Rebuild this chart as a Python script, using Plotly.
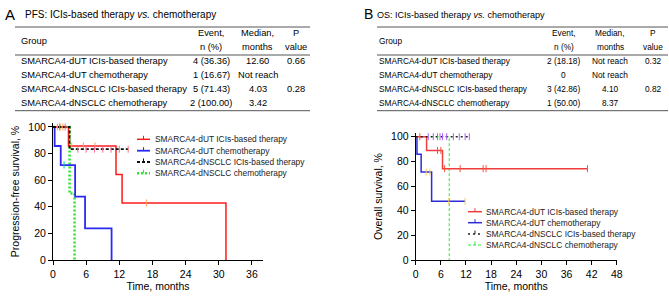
import plotly.graph_objects as go

W, H = 669, 297
FONT = "Liberation Sans, Arial, sans-serif"

# ---------------- data ----------------
panel_letters = ["A", "B"]
panel_titles = ["PFS: ICIs-based therapy <i>vs.</i> chemotherapy",
                "OS: ICIs-based therapy <i>vs.</i> chemotherapy"]

groups = ["SMARCA4-dUT ICIs-based therapy", "SMARCA4-dUT chemotherapy",
          "SMARCA4-dNSCLC ICIs-based therapy", "SMARCA4-dNSCLC chemotherapy"]
header_top = ["Event,", "Median,", "P"]
header_bot = ["n (%)", "months", "value"]

pfs_events = ["4 (36.36)", "1 (16.67)", "5 (71.43)", "2 (100.00)"]
pfs_median = ["12.60", "Not reach", "4.03", "3.42"]
pfs_p = ["0.66", "", "0.28", ""]

os_events = ["2 (18.18)", "0", "3 (42.86)", "1 (50.00)"]
os_median = ["Not reach", "Not reach", "4.10", "8.37"]
os_p = ["0.32", "", "0.82", ""]

# Kaplan-Meier step knots (time in months, survival %)
pfs_dut_ici_t = [0, 2.8, 11.4, 12.5, 31.3]
pfs_dut_ici_s = [100, 85.7, 64.3, 42.9, 0]
pfs_dut_ici_c = [0.8, 1.3, 1.8, 3.4, 5.5, 7.6, 16.9]

pfs_dut_chemo_t = [0, 0.3, 1.4, 4.0, 5.8, 10.6]
pfs_dut_chemo_s = [100, 85.7, 71.4, 47.6, 23.8, 0]
pfs_dut_chemo_c = [2.0]

pfs_nsclc_ici_t = [0, 3.0, 13.6]
pfs_nsclc_ici_s = [100, 83.3, 83.3]
pfs_nsclc_ici_c = [1.2, 2.2, 4.5, 6.0, 7.5, 9.0, 10.5, 12.0, 13.6]

pfs_nsclc_chemo_t = [0, 3.0, 3.9]
pfs_nsclc_chemo_s = [100, 50, 0]
pfs_nsclc_chemo_c = []

os_dut_ici_t = [0, 2.6, 6.4, 41.0]
os_dut_ici_s = [100, 88.9, 74.1, 74.1]
os_dut_ici_c = [1.0, 5.2, 6.0, 6.9, 10.6, 16.1, 16.8, 41.0]

os_dut_chemo_t = [0, 0.3, 1.3, 3.8, 11.8]
os_dut_chemo_s = [100, 85.7, 71.4, 47.6, 47.6]
os_dut_chemo_c = [2.5, 3.4, 7.9, 11.8]

os_nsclc_ici_t = [0, 12.8]
os_nsclc_ici_s = [100, 100]
os_nsclc_ici_c = [3.0, 4.2, 5.2, 5.8, 6.4, 7.4, 9.0, 10.4, 11.8, 12.8]

os_nsclc_chemo_t = [0, 8.0]
os_nsclc_chemo_s = [100, 0]
os_nsclc_chemo_c = []

pfs_x_ticks = [0, 6, 12, 18, 24, 30, 36]
os_x_ticks = [0, 6, 12, 18, 24, 30, 36, 42, 48]
y_ticks = [0, 20, 40, 60, 80, 100]

# ---------------- styles ----------------
left_styles = [
    dict(color="#ff1a1a", width=1.5, dash="solid"),
    dict(color="#2b2bf0", width=1.8, dash="solid"),
    dict(color="#111111", width=1.8, dash="3px,2px"),
    dict(color="#2ee82e", width=2.6, dash="2px,2px"),
]
right_styles = [
    dict(color="#f23c3c", width=1.5, dash="solid"),
    dict(color="#2b2bd8", width=1.5, dash="solid"),
    dict(color="#222222", width=1.6, dash="2px,3px"),
    dict(color="#2ee82e", width=1.0, dash="3px,2px"),
]
draw_order = [3, 1, 0, 2]  # green first, then blue, red, black on top


def px(x):
    return x / W


def py(y):
    return 1 - y / H


def step_val(ts, ss, t):
    v = ss[0]
    for tk, sk in zip(ts, ss):
        if t >= tk:
            v = sk
    return v


fig = go.Figure()

panels = [
    dict(curves=[(pfs_dut_ici_t, pfs_dut_ici_s, pfs_dut_ici_c),
                 (pfs_dut_chemo_t, pfs_dut_chemo_s, pfs_dut_chemo_c),
                 (pfs_nsclc_ici_t, pfs_nsclc_ici_s, pfs_nsclc_ici_c),
                 (pfs_nsclc_chemo_t, pfs_nsclc_chemo_s, pfs_nsclc_chemo_c)],
         styles=left_styles, xa="x", ya="y"),
    dict(curves=[(os_dut_ici_t, os_dut_ici_s, os_dut_ici_c),
                 (os_dut_chemo_t, os_dut_chemo_s, os_dut_chemo_c),
                 (os_nsclc_ici_t, os_nsclc_ici_s, os_nsclc_ici_c),
                 (os_nsclc_chemo_t, os_nsclc_chemo_s, os_nsclc_chemo_c)],
         styles=right_styles, xa="x2", ya="y2"),
]

for p in panels:
    for i in draw_order:
        name = groups[i]
        ts, ss, cs = p["curves"][i]
        st = p["styles"][i]
        fig.add_trace(go.Scatter(
            x=ts, y=ss, mode="lines", line_shape="hv", name=name,
            line=dict(color=st["color"], width=st["width"], dash=st["dash"]),
            xaxis=p["xa"], yaxis=p["ya"], showlegend=False, hoverinfo="skip"))
        if cs:
            fig.add_trace(go.Scatter(
                x=cs, y=[step_val(ts, ss, c) for c in cs], mode="markers",
                marker=dict(symbol="line-ns-open", size=5,
                            line=dict(color=st["color"], width=1)),
                xaxis=p["xa"], yaxis=p["ya"], showlegend=False, hoverinfo="skip",
                cliponaxis=False))

axis_common = dict(showline=True, linecolor="black", linewidth=1, ticks="outside",
                   ticklen=4, tickwidth=1, tickcolor="black", showgrid=False,
                   zeroline=False, tickfont=dict(size=10.5, color="black", family=FONT),
                   automargin=False)

fig.update_layout(
    width=W, height=H, margin=dict(l=0, r=0, t=0, b=0),
    paper_bgcolor="white", plot_bgcolor="white",
    font=dict(family=FONT, color="black"),
    showlegend=False,
    xaxis=dict(domain=[px(53), px(263)], range=[0, 38], tickvals=pfs_x_ticks, anchor="y",
               title=dict(text="Time, months", font=dict(size=10.5), standoff=2), **axis_common),
    yaxis=dict(domain=[py(260), py(123)], range=[0, 103], tickvals=y_ticks, anchor="x",
               title=dict(text="Progression-free survival, %", font=dict(size=10.5), standoff=6),
               **axis_common),
    xaxis2=dict(domain=[px(415.7), px(616.8)], range=[0, 48], tickvals=os_x_ticks, anchor="y2",
                title=dict(text="Time, months", font=dict(size=10.5), standoff=2), **axis_common),
    yaxis2=dict(domain=[py(260), py(133)], range=[0, 103], tickvals=y_ticks, anchor="x2",
                title=dict(text="Overall survival, %", font=dict(size=10.5), standoff=6),
                **axis_common),
)

annotations = []
shapes = []

# ---------------- panel letters, titles and tables ----------------
tables = [
    dict(letter_x=3, title_x=23, x0=15, x1=310, group_x=19, fs=9.3, title_fs=10, letter_fs=15,
         cols=[211, 257.5, 296.3], data=[pfs_events, pfs_median, pfs_p]),
    dict(letter_x=362, title_x=375, x0=377, x1=668, group_x=377, fs=8.3, title_fs=9, letter_fs=14,
         cols=[563.5, 610, 653], data=[os_events, os_median, os_p]),
]
row_y = [61, 75, 89, 103]

for letter, title, tb in zip(panel_letters, panel_titles, tables):
    TFS = tb["fs"]
    annotations.append(dict(text=letter, x=px(tb["letter_x"]), y=py(14), xref="paper", yref="paper",
                            xanchor="left", yanchor="middle", showarrow=False,
                            font=dict(size=tb["letter_fs"], color="black")))
    annotations.append(dict(text=title, x=px(tb["title_x"]), y=py(14.5), xref="paper", yref="paper",
                            xanchor="left", yanchor="middle", showarrow=False,
                            font=dict(size=tb["title_fs"], color="black")))
    for yline in (27, 55, 110.7):
        shapes.append(dict(type="line", xref="paper", yref="paper",
                           x0=px(tb["x0"]), x1=px(tb["x1"]), y0=py(yline), y1=py(yline),
                           line=dict(color="#555555", width=1)))
    annotations.append(dict(text="Group", x=px(tb["group_x"]), y=py(41), xref="paper", yref="paper",
                            xanchor="left", yanchor="middle", showarrow=False,
                            font=dict(size=TFS)))
    for cx, ht, hb in zip(tb["cols"], header_top, header_bot):
        annotations.append(dict(text=ht, x=px(cx), y=py(33.5), xref="paper", yref="paper",
                                xanchor="center", yanchor="middle", showarrow=False,
                                font=dict(size=TFS)))
        annotations.append(dict(text=hb, x=px(cx), y=py(47), xref="paper", yref="paper",
                                xanchor="center", yanchor="middle", showarrow=False,
                                font=dict(size=TFS)))
    for ry, g in zip(row_y, groups):
        annotations.append(dict(text=g, x=px(tb["group_x"]), y=py(ry), xref="paper", yref="paper",
                                xanchor="left", yanchor="middle", showarrow=False,
                                font=dict(size=TFS)))
    for cx, col in zip(tb["cols"], tb["data"]):
        for ry, v in zip(row_y, col):
            if v:
                annotations.append(dict(text=v, x=px(cx), y=py(ry), xref="paper", yref="paper",
                                        xanchor="center", yanchor="middle", showarrow=False,
                                        font=dict(size=TFS)))

# ---------------- manual legends ----------------
legends = [
    dict(x0=137, x1=150, tx=153, rows=[139.3, 150.7, 162, 173.3], styles=left_styles),
    dict(x0=468, x1=482, tx=484, rows=[211.7, 222.7, 234, 245], styles=right_styles),
]
for lg in legends:
    for g, ry, st in zip(groups, lg["rows"], lg["styles"]):
        shapes.append(dict(type="line", xref="paper", yref="paper",
                           x0=px(lg["x0"]), x1=px(lg["x1"]), y0=py(ry), y1=py(ry),
                           line=dict(color=st["color"], width=st["width"], dash=st["dash"])))
        mx = (lg["x0"] + lg["x1"]) / 2
        shapes.append(dict(type="line", xref="paper", yref="paper",
                           x0=px(mx), x1=px(mx), y0=py(ry), y1=py(ry - 3.5),
                           line=dict(color=st["color"], width=1)))
        annotations.append(dict(text=g, x=px(lg["tx"]), y=py(ry), xref="paper", yref="paper",
                                xanchor="left", yanchor="middle", showarrow=False,
                                font=dict(size=8.4, color="#222222")))

fig.update_layout(annotations=annotations, shapes=shapes)
fig.write_html("out.html", config={"displayModeBar": False},
               post_script="document.body.style.margin='0';document.body.style.overflow='hidden';")
